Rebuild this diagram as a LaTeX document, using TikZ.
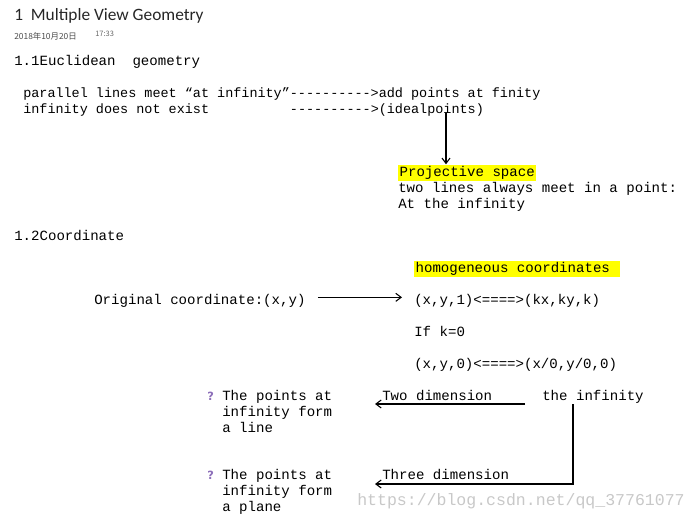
\documentclass[tikz,border=0pt]{standalone}
\usepackage{fontspec}
\setmonofont{Liberation Mono}
\newfontfamily\titlefont{Carlito}
\newfontfamily\cjkfont{Noto Sans CJK SC}
\newfontfamily\qfont{DejaVu Sans}
\usetikzlibrary{arrows.meta}

\definecolor{marker}{RGB}{255,255,0}
\definecolor{qmark}{RGB}{140,110,185}
\definecolor{wmark}{RGB}{200,200,200}

\tikzset{
    txt/.style={anchor=base west,inner sep=0pt,
        font=\ttfamily\fontsize{10.56}{12}\selectfont},
    smalltxt/.style={txt,font=\ttfamily\fontsize{10.1}{12}\selectfont},
    hl/.style={txt,fill=marker,inner xsep=1pt,inner ysep=1pt,
        text height=7.6pt,text depth=2.4pt},
    qm/.style={anchor=base west,inner sep=0pt,text=qmark,
        font=\qfont\bfseries\fontsize{8.5}{9}\selectfont},
    arr/.style={line width=0.8pt,-{Straight Barb[length=4pt,width=6pt]}},
}

\begin{document}
\begin{tikzpicture}[x=0.75pt,y=-0.75pt]
            \useasboundingbox (0,0) rectangle (698,520);

            % header
            \node[anchor=base west,inner sep=0pt,text=black!85,
                font=\titlefont\fontsize{13}{15}\selectfont] (title) at (14,21)
                {1~ Multiple View Geometry};
            \node[anchor=base west,inner sep=0pt,text=black!70,
                font=\cjkfont\fontsize{6.3}{7}\selectfont] (date) at (14,39.5)
                {2018年10月20日};
            \node[anchor=base west,inner sep=0pt,text=black!60,
                font=\cjkfont\fontsize{5.6}{6}\selectfont] (time) at (95,36.5)
                {17:33};

            % 1.1
            \node[txt] (sec1) at (14,66) {1.1Euclidean~ geometry};
            \node[smalltxt] (par) at (23,98)
                {parallel lines meet “at infinity”---------->add points at finity};
            \node[smalltxt] (ex) at (23,114)
                {infinity does not exist~~~~~~~~~~---------->(idealpoints)};

            \node[hl] (proj) at (398,176) {Projective space};
            \node[txt] (meet) at (398,192) {two lines always meet in a point:};
            \node[txt] (atinf) at (398,208) {At the infinity};

            \coordinate (ideal) at (446,113);
            \draw[arr] (ideal)--(ideal |- proj.north);

            % 1.2
            \node[txt] (sec2) at (14,240) {1.2Coordinate};
            \node[hl] (homog) at (414,272) {homogeneous coordinates\kern0.65em};
            \node[txt] (orig) at (94,304) {Original coordinate:(x,y)};
            \node[txt] (hom1) at (414,304) {(x,y,1)<====>(kx,ky,k)};
            \node[txt] (ifk) at (414,336) {If k=0};
            \node[txt] (hom0) at (414,368) {(x,y,0)<====>(x/0,y/0,0)};

            \draw[arr] ([xshift=9pt,yshift=5pt]orig.base east)
                --([xshift=-9pt,yshift=5pt]hom1.base west);

            \node[txt] (two) at (382,400) {Two dimension};
            \node[txt] (inf) at (542,400) {the infinity};
            \node[txt] (three) at (382,479) {Three dimension};

            \foreach \nm/\y/\last in {
                line/400/a line,plane/479/a plane
            }{
                \node[qm] (\nm q) at (207,\y) {?};
                \node[txt] (\nm a) at (222,\y) {The points at};
                \node[txt] (\nm b) at (222,\y+16) {infinity form};
                \node[txt] (\nm c) at (222,\y+32) {\last};
            }

            \coordinate (twoR) at ([xshift=-12.75pt,yshift=-3pt]inf.base west);
            \coordinate (twoL) at ([xshift=-5.25pt,yshift=-3pt]two.base west);
            \coordinate (drop) at ([xshift=23.25pt,yshift=-3pt]inf.base west);
            \coordinate (threeL) at ([xshift=-5.25pt,yshift=-3.75pt]three.base west);

            \draw[arr] (twoR)--(twoL);
            \draw[arr] (drop) |- (threeL);

            % watermark
            \node[anchor=base west,inner sep=0pt,text=wmark,
                font=\ttfamily\fontsize{12.4}{14}\selectfont] (wm) at (357,505)
                {https://blog.csdn.net/qq\_37761077};
        \end{tikzpicture}
\end{document}
